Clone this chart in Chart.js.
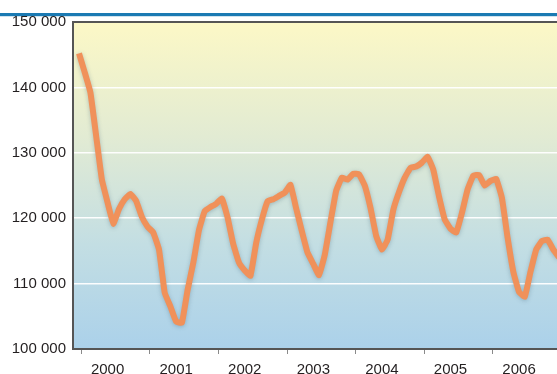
<!DOCTYPE html>
<html>
<head>
<meta charset="utf-8">
<script src="https://cdn.jsdelivr.net/npm/chart.js@4"></script>
<style>
html,body{margin:0;padding:0;background:#fff;overflow:hidden;}
canvas{display:block;}
</style>
</head>
<body>
<canvas id="c" width="557" height="374"></canvas>
<script>
// Monthly values, January 2000 onward (last one runs past the visible edge)
const yearLabels = ['2000','2001','2002','2003','2004','2005','2006'];
const values = [
  145200,142300,139200,132600,125900,122400,119150,121400,122900,123700,122650,120200,
  118700,117800,115200,108600,106500,104200,104000,109000,113200,118200,121100,121700,
  122200,123000,120100,116000,113200,112000,111200,116200,119800,122600,122900,123400,
  123900,125100,121500,118000,114700,113000,111300,114400,119400,124200,126200,125900,
  126800,126700,125000,121600,117300,115200,116700,121300,124000,126200,127700,127900,
  128500,129400,127400,123300,119800,118400,117800,120800,124400,126500,126600,125000,
  125700,126000,123100,117000,111800,108700,108000,111800,115200,116500,116700,115200,
  114000
];
const yMin = 100000, yMax = 150000, yStep = 10000;

const points = values.map((v, i) => ({x: i, y: v}));

const bgPlugin = {
  id: 'bg',
  beforeDraw(chart) {
    const {ctx, chartArea: a} = chart;
    ctx.save();
    ctx.fillStyle = '#1b7ab3';
    ctx.fillRect(0, 13, chart.width, 3);
    ctx.fillStyle = '#cfe3ef';
    ctx.fillRect(0, 16, chart.width, 1);
    const g = ctx.createLinearGradient(0, a.top, 0, a.bottom);
    g.addColorStop(0, '#fcf8c6');
    g.addColorStop(0.35, '#e2ebd3');
    g.addColorStop(0.68, '#c3dee3');
    g.addColorStop(1, '#abd1ea');
    ctx.fillStyle = g;
    ctx.fillRect(a.left, a.top, a.right - a.left, a.bottom - a.top);
    ctx.restore();
  },
  beforeDatasetsDraw(chart) {
    const ctx = chart.ctx;
    ctx.save();
    ctx.shadowColor = 'rgba(70,100,120,0.35)';
    ctx.shadowBlur = 4;
    ctx.shadowOffsetY = 1;
  },
  afterDatasetsDraw(chart) {
    chart.ctx.restore();
  },
  afterDraw(chart) {
    const {ctx, chartArea: a} = chart;
    ctx.save();
    ctx.strokeStyle = '#555';
    ctx.lineWidth = 2;
    ctx.beginPath();
    ctx.moveTo(a.left - 1, a.top);
    ctx.lineTo(a.right, a.top);
    ctx.stroke();
    ctx.restore();
  }
};

Chart.defaults.font.family = "'Liberation Sans', Arial, sans-serif";
Chart.defaults.font.size = 15;
Chart.defaults.color = '#231f20';

new Chart(document.getElementById('c'), {
  type: 'line',
  data: {
    datasets: [{
      data: points,
      borderColor: '#f0915a',
      borderWidth: 6,
      pointRadius: 0,
      tension: 0.1,
      borderJoinStyle: 'round',
      borderCapStyle: 'butt',
      fill: false
    }]
  },
  options: {
    responsive: false,
    animation: false,
    devicePixelRatio: 1,
    layout: {padding: {top: 22, left: 0, right: 0, bottom: 0}},
    plugins: {legend: {display: false}, tooltip: {enabled: false}},
    scales: {
      x: {
        type: 'linear',
        min: -1.05,
        max: 83.64,
        afterBuildTicks(scale) {
          const t = [];
          yearLabels.forEach((y, k) => {
            t.push({value: 12 * k + 0.4});
            t.push({value: 12 * k + 5});
          });
          scale.ticks = t;
        },
        afterFit(scale) { scale.height = 25; },
        ticks: {
          autoSkip: false,
          maxRotation: 0,
          padding: 7,
          callback(value) {
            const k = Math.round((value - 5) / 12);
            return Math.abs(value - (12 * k + 5)) < 0.01 ? yearLabels[k] : '';
          }
        },
        grid: {
          drawOnChartArea: false,
          tickLength: 5,
          lineWidth: 1,
          tickColor: (ctx) => (ctx.tick && (ctx.tick.value % 12) < 1) ? '#8a8a8a' : 'rgba(0,0,0,0)'
        },
        border: {color: '#555', width: 2}
      },
      y: {
        min: yMin,
        max: yMax,
        afterFit(scale) { scale.width = 73; },
        ticks: {
          stepSize: yStep,
          padding: 7,
          callback: (v) => String(v).replace(/\B(?=(\d{3})+(?!\d))/g, ' ')
        },
        grid: {
          color: 'rgba(255,255,255,0.95)',
          lineWidth: 1.5,
          drawTicks: false
        },
        border: {color: '#555', width: 2}
      }
    }
  },
  plugins: [bgPlugin]
});
</script>
</body>
</html>
